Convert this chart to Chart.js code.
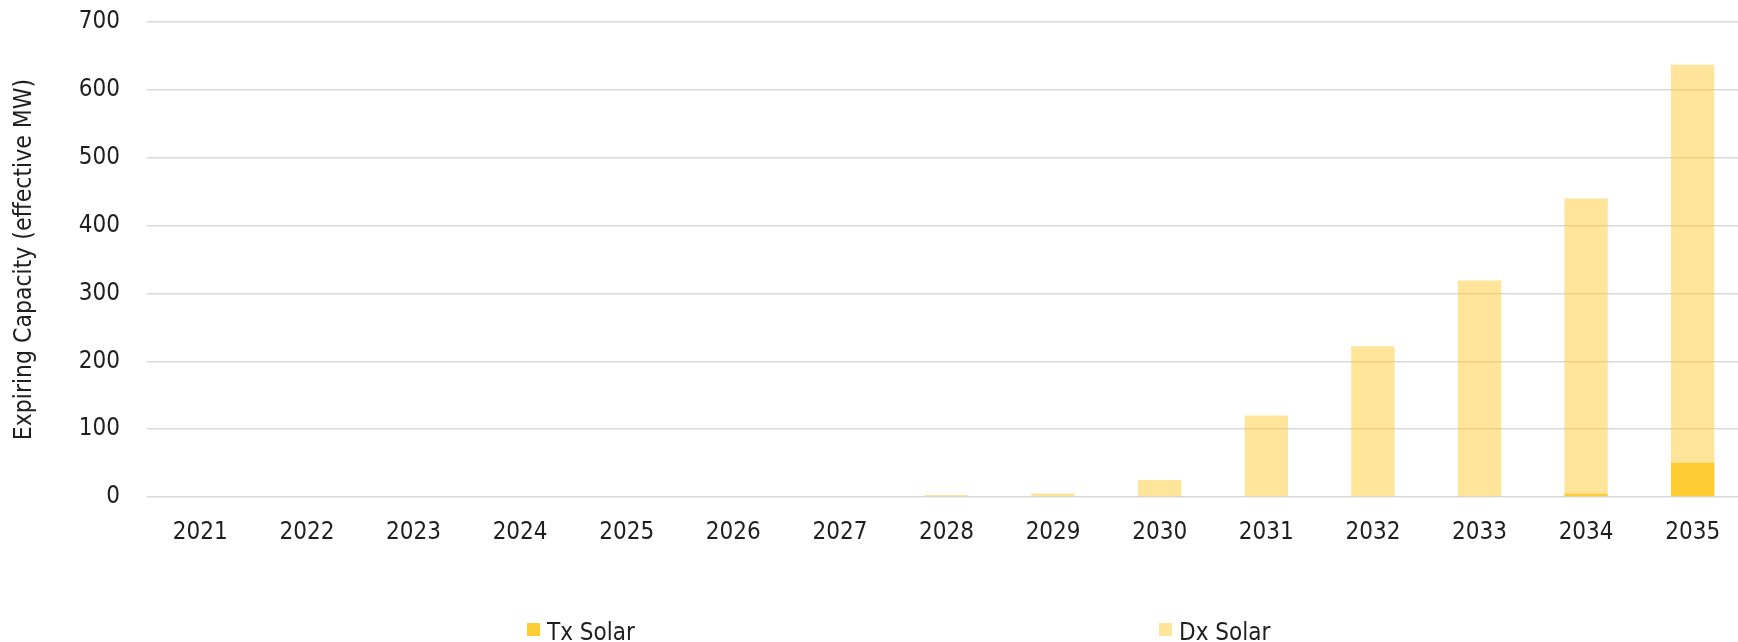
<!DOCTYPE html>
<html>
<head>
<meta charset="utf-8">
<script src="https://cdn.jsdelivr.net/npm/chart.js@4/dist/chart.umd.min.js"></script>
<style>
  html, body { margin: 0; padding: 0; background: #fff; overflow: hidden; }
  #wrap { position: relative; width: 1750px; height: 642px; }
  #chart { display: block; }
  .legend-item { position: absolute; top: 620px; height: 24px; line-height: 24px;
    font-family: "DejaVu Sans Condensed", "DejaVu Sans", sans-serif; font-stretch: condensed;
    font-size: 24px; color: #1f1f1f; white-space: nowrap; }
  .legend-item .swatch { position: absolute; left: 0; top: 3px; width: 13px; height: 13px; }
  .legend-item .label { position: absolute; left: 20px; top: 0; }
</style>
</head>
<body>
<div id="wrap">
  <canvas id="chart" width="1750" height="642"></canvas>
  <div class="legend-item" id="leg0" style="left:527px"><span class="swatch"></span><span class="label"></span></div>
  <div class="legend-item" id="leg1" style="left:1159px"><span class="swatch"></span><span class="label"></span></div>
</div>
<script>
// Expiring contract capacity by year (effective MW)
const years = ['2021','2022','2023','2024','2025','2026','2027','2028','2029','2030','2031','2032','2033','2034','2035'];
const txSolar = [0, 0, 0, 0, 0, 0, 0, 0, 0, 0, 0, 0, 0, 5, 51];
const dxSolar = [0, 0, 0, 0, 0, 0, 0, 3, 5, 25, 120, 222, 319, 435, 586];
const seriesNames = ['Tx Solar', 'Dx Solar'];
const yTicks = [0, 100, 200, 300, 400, 500, 600, 700];
const yTitle = 'Expiring Capacity (effective MW)';

const colors = ['#FFCC33', 'rgba(255,204,51,0.5)'];
const FONT = '"DejaVu Sans Condensed", "DejaVu Sans", sans-serif';
const TEXT = '#1f1f1f';

new Chart(document.getElementById('chart'), {
  type: 'bar',
  data: {
    labels: years,
    datasets: [
      { label: seriesNames[0], data: txSolar, backgroundColor: colors[0] },
      { label: seriesNames[1], data: dxSolar, backgroundColor: colors[1] }
    ]
  },
  options: {
    responsive: false,
    animation: false,
    datasets: { bar: { barPercentage: 0.407, categoryPercentage: 1, borderWidth: 0 } },
    layout: { padding: { top: 22, right: 4, left: 0, bottom: 0 } },
    plugins: { legend: { display: false }, tooltip: { enabled: false } },
    scales: {
      x: {
        stacked: true,
        grid: { display: false },
        border: { display: false },
        ticks: {
          color: TEXT, font: { family: FONT, size: 24 },
          maxRotation: 0, autoSkip: false, padding: 13
        },
        afterFit: s => { s.height = 145; }
      },
      y: {
        stacked: true,
        min: yTicks[0], max: yTicks[yTicks.length - 1],
        afterBuildTicks: s => { s.ticks = yTicks.map(v => ({ value: v })); },
        grid: { color: '#d9d9d9', lineWidth: 1.5, drawTicks: false },
        border: { display: false },
        ticks: { color: TEXT, font: { family: FONT, size: 24 }, padding: 27 },
        title: {
          display: true, text: yTitle, color: TEXT,
          font: { family: FONT, size: 24.5 }, padding: { top: 10, bottom: 0 }
        },
        afterFit: s => { s.width = 147; s.paddingTop = 0; }
      }
    }
  }
});

// Legend entries
[0, 1].forEach(i => {
  const el = document.getElementById('leg' + i);
  el.querySelector('.swatch').style.background = colors[i];
  el.querySelector('.label').textContent = seriesNames[i];
});
</script>
</body>
</html>
